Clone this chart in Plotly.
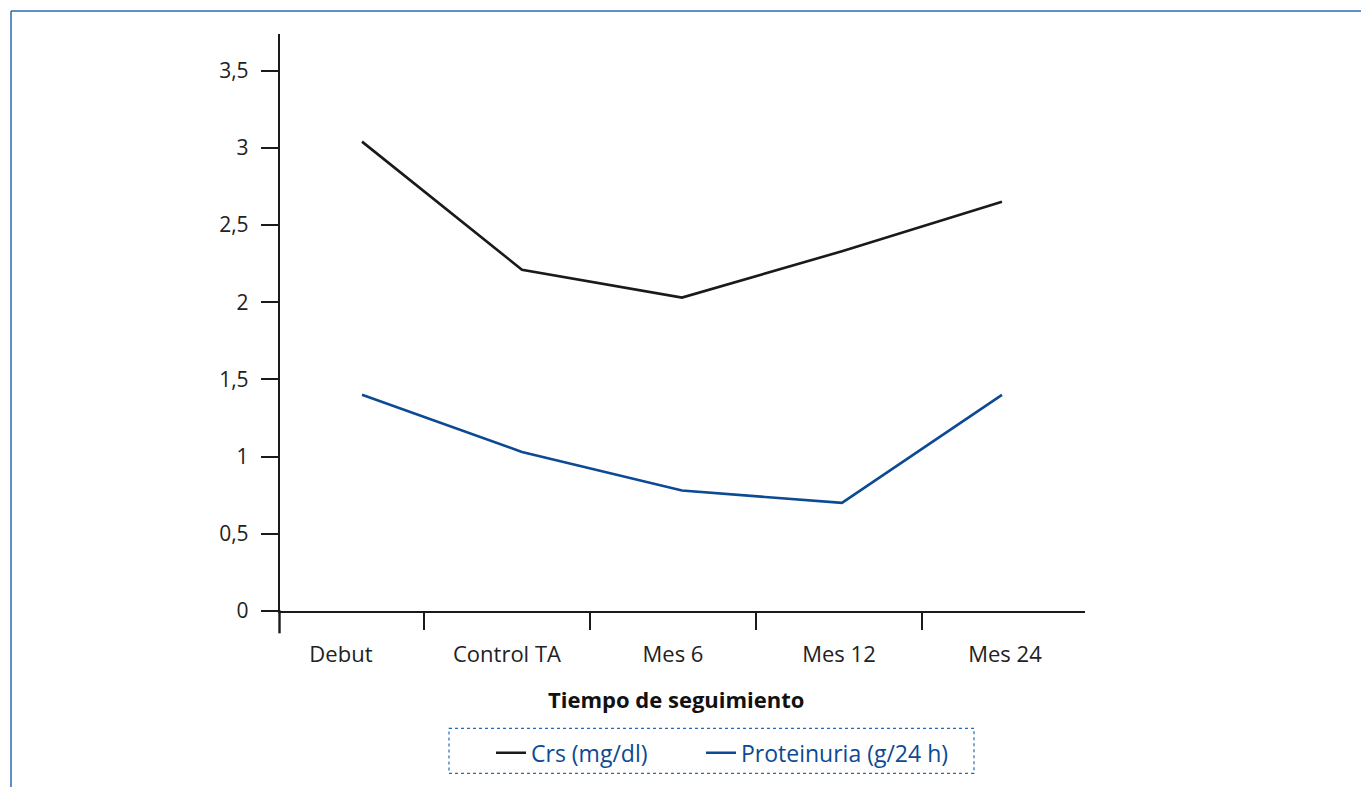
import plotly.graph_objects as go

categories = ["Debut", "Control TA", "Mes 6", "Mes 12", "Mes 24"]
crs_values = [3.04, 2.21, 2.03, 2.33, 2.65]
prot_values = [1.40, 1.03, 0.78, 0.70, 1.40]
y_tickvals = [0, 0.5, 1, 1.5, 2, 2.5, 3, 3.5]
y_ticktext = ["0", "0,5", "1", "1,5", "2", "2,5", "3", "3,5"]

W, H = 1361, 787
L, R, T, B = 280, 1085, 34, 610.7

def px_x(p):
    return (p - L) / (R - L)

def px_y(p):
    return (B - p) / (B - T)

BLACK = "#1a1a1a"
BLUE = "#0c4a93"
FRAME = "#2a6ab3"
FONT = "Open Sans"

fig = go.Figure()
# helper (no visible marks) so that the labelled category axis has its categories
fig.add_trace(go.Scatter(x=categories, y=[None] * len(categories), mode="lines",
                         showlegend=False, hoverinfo="skip", xaxis="x", yaxis="y"))
fig.add_trace(go.Scatter(x=categories, y=crs_values, mode="lines", name="Crs (mg/dl)",
                         line=dict(color=BLACK, width=2.6), xaxis="x2", yaxis="y",
                         legend="legend"))
fig.add_trace(go.Scatter(x=categories, y=prot_values, mode="lines", name="Proteinuria (g/24 h)",
                         line=dict(color=BLUE, width=2.6), xaxis="x2", yaxis="y",
                         legend="legend2"))

axis_common = dict(showgrid=False, zeroline=False, showline=True, linecolor=BLACK,
                   linewidth=2.4, ticks="outside", ticklen=17, tickwidth=2, tickcolor=BLACK)

legend_common = dict(orientation="h", xanchor="left", yanchor="top",
                     font=dict(size=23, color=BLUE, family=FONT), bgcolor="rgba(0,0,0,0)",
                     borderwidth=0)

fig.update_layout(
    width=W, height=H,
    margin=dict(l=L, r=W - R, t=T, b=H - B, pad=0),
    paper_bgcolor="white", plot_bgcolor="white",
    font=dict(family=FONT, size=22, color="#222222"),
    showlegend=True,
    xaxis=dict(type="category", categoryorder="array", categoryarray=categories,
               range=[-0.367, 4.482], tickson="boundaries",
               tickfont=dict(size=22, color="#222222"), ticklabelstandoff=22,
               **axis_common),
    xaxis2=dict(type="category", categoryorder="array", categoryarray=categories,
                range=[-0.5125, 4.519], overlaying="x", anchor="y", visible=False,
                showgrid=False, zeroline=False),
    yaxis=dict(range=[0, 3.737], tickmode="array", tickvals=y_tickvals, ticktext=y_ticktext,
               tickfont=dict(size=21, color="#222222"), ticklabelstandoff=8,
               **axis_common),
    legend=dict(x=px_x(491), y=px_y(731), **legend_common),
    legend2=dict(x=px_x(701), y=px_y(731), **legend_common),
    annotations=[dict(text="<b>Tiempo de seguimiento</b>", xref="paper", yref="paper",
                      x=px_x(676), y=px_y(699), xanchor="center", yanchor="middle",
                      showarrow=False, font=dict(size=22, color="#111111", family=FONT))],
    shapes=[
        dict(type="line", xref="paper", yref="paper", x0=px_x(11), x1=px_x(1361),
             y0=px_y(11), y1=px_y(11), line=dict(color=FRAME, width=1.5)),
        dict(type="line", xref="paper", yref="paper", x0=px_x(11), x1=px_x(11),
             y0=px_y(11), y1=px_y(787), line=dict(color=FRAME, width=1.5)),
        dict(type="line", xref="paper", yref="paper", x0=px_x(279.5), x1=px_x(279.5),
             y0=px_y(610), y1=px_y(633), line=dict(color=BLACK, width=2.4)),
        dict(type="rect", xref="paper", yref="paper", x0=px_x(449), x1=px_x(974),
             y0=px_y(728), y1=px_y(773), line=dict(color=FRAME, width=1.2, dash="dot")),
    ],
)

fig.write_html("out.html", config={"displayModeBar": False},
               post_script="document.body.style.margin='0';")
